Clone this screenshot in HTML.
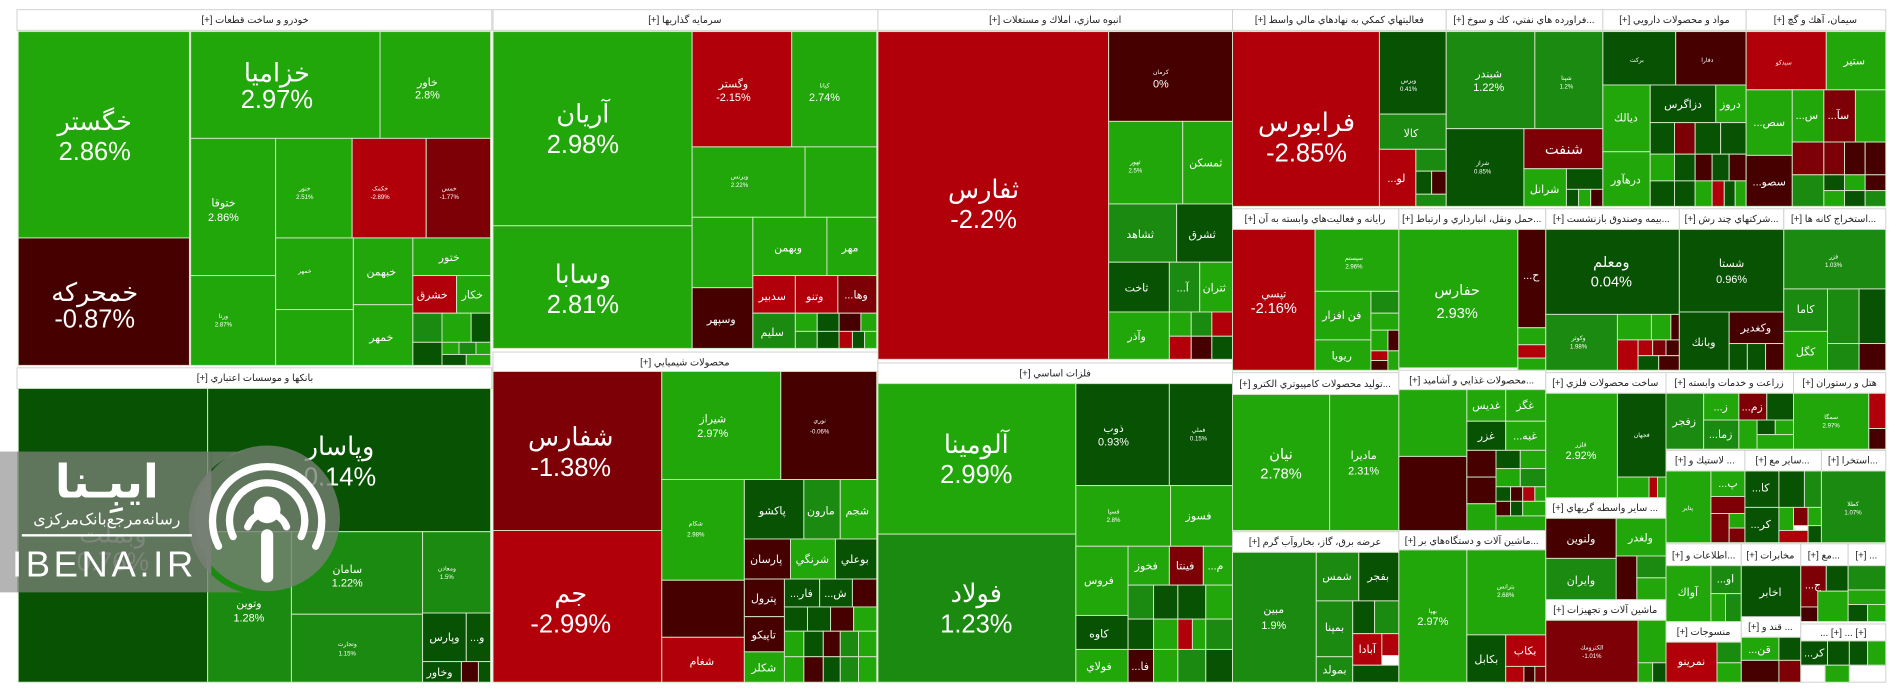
<!DOCTYPE html>
<html><head><meta charset="utf-8"><style>
html,body{margin:0;padding:0;background:#fff;width:1904px;height:698px;overflow:hidden}
svg{display:block}
rect{stroke:#cfe3c4;stroke-width:0.8}
.g{fill:#22a70b}.m{fill:#1b8a10}.d{fill:#0c6a06}.dd{fill:#075203}.r{fill:#b2000b}.dr{fill:#7c0006}.vd{fill:#460000}
.h{fill:#fff;stroke:#d0d0d0}
text{font-family:"Liberation Sans","DejaVu Sans",sans-serif;fill:#fff;text-anchor:middle;direction:rtl}
.ht{fill:#222;font-size:8px}
.L{font-size:21px}.M{font-size:12px}.S{font-size:9px}.T{font-size:5px}
.ltr{direction:ltr}
</style></head><body>
<svg width="1904" height="698" viewBox="0 0 1568 575" preserveAspectRatio="none" xmlns="http://www.w3.org/2000/svg">
<rect x="0" y="0" width="1568" height="575" fill="#fff" style="stroke:none"/>
<!-- Col1 autos -->
<rect class="h" x="14" y="8" width="391" height="17"/><text class="ht" x="210" y="19">خودرو و ساخت قطعات [+]</text>
<rect class="g" x="15" y="26" width="141" height="170"/><text class="L" x="78" y="107">خگستر</text><text class="L ltr" x="78" y="132">2.86%</text>
<rect class="vd" x="15" y="196" width="141" height="105"/><text class="L" x="78" y="248">خمحرکه</text><text class="L ltr" x="78" y="270">-0.87%</text>
<rect class="g" x="157" y="26" width="156" height="88"/><text class="L" x="228" y="67">خزامیا</text><text class="L ltr" x="228" y="89">2.97%</text>
<rect class="g" x="313" y="26" width="91" height="88"/><text class="S" x="352" y="71">خاور</text><text class="S ltr" x="352" y="81">2.8%</text>
<rect class="g" x="157" y="114" width="70" height="113"/><text class="S" x="184" y="170">ختوقا</text><text class="S ltr" x="184" y="182">2.86%</text>
<rect class="g" x="157" y="227" width="70" height="74"/><text class="T" x="184" y="262">ورنا</text><text class="T ltr" x="184" y="269">2.87%</text>
<rect class="g" x="227" y="114" width="63" height="82"/><text class="T" x="251" y="157">خنور</text><text class="T ltr" x="251" y="164">2.51%</text>
<rect class="r" x="290" y="114" width="61" height="82"/><text class="T" x="313" y="157">خکمک</text><text class="T ltr" x="313" y="164">-2.89%</text>
<rect class="dr" x="351" y="114" width="53" height="82"/><text class="T" x="370" y="157">خمس</text><text class="T ltr" x="370" y="164">-1.77%</text>
<rect class="g" x="227" y="196" width="64" height="59"/><text class="T" x="251" y="225">خمهر</text>
<rect class="g" x="227" y="255" width="64" height="46"/>
<rect class="g" x="291" y="196" width="49" height="55"/><text class="S" x="314" y="227">خبهمن</text>
<rect class="g" x="291" y="251" width="49" height="50"/><text class="S" x="314" y="281">خمهر</text>
<rect class="g" x="340" y="196" width="64" height="31"/><text class="S" x="370" y="215">ختور</text>
<rect class="r" x="340" y="227" width="36" height="31"/><text class="S" x="356" y="246">خشرق</text>
<rect class="g" x="376" y="227" width="28" height="31"/><text class="S" x="389" y="246">خکار</text>
<rect class="m" x="340" y="258" width="24" height="24"/><rect class="g" x="364" y="258" width="24" height="24"/><rect class="dd" x="388" y="258" width="16" height="24"/>
<rect class="dd" x="340" y="282" width="24" height="19"/><rect class="g" x="364" y="282" width="14" height="10"/><rect class="m" x="378" y="282" width="14" height="10"/><rect class="g" x="392" y="282" width="12" height="10"/><rect class="dd" x="364" y="292" width="20" height="9"/><rect class="g" x="384" y="292" width="20" height="9"/>
<!-- Banks -->
<rect class="h" x="14" y="303" width="391" height="17"/><text class="ht" x="210" y="314">بانکها و موسسات اعتباري [+]</text>
<rect class="dd" x="15" y="320" width="156" height="242"/><text class="L" x="93" y="447" style="fill:#8a9a88">وبملت</text><text class="L ltr" x="93" y="470" style="fill:#8a9a88">0.76%</text>
<rect class="dd" x="171" y="320" width="233" height="118"/><text class="L" x="280" y="375">وپاسار</text><text class="L ltr" x="280" y="400">0.14%</text>
<rect class="m" x="171" y="438" width="69" height="124"/><text class="S" x="205" y="500">وتوين</text><text class="S ltr" x="205" y="512">1.28%</text>
<rect class="m" x="240" y="438" width="108" height="68"/><text class="S" x="286" y="472">سامان</text><text class="S ltr" x="286" y="483">1.22%</text>
<rect class="m" x="240" y="506" width="108" height="56"/><text class="T" x="286" y="532">وتجارت</text><text class="T ltr" x="286" y="540">1.15%</text>
<rect class="m" x="348" y="438" width="56" height="67"/><text class="T" x="368" y="470">ومعادن</text><text class="T ltr" x="368" y="477">1.5%</text>
<rect class="dd" x="348" y="505" width="36" height="40"/><text class="S" x="366" y="528">وپارس</text>
<rect class="dd" x="384" y="505" width="20" height="40"/><text class="S" x="393" y="528">و...</text>
<rect class="dd" x="348" y="545" width="32" height="17"/><text class="S" x="362" y="557">وخاور</text>
<rect class="vd" x="380" y="545" width="14" height="17"/><rect class="dd" x="394" y="545" width="10" height="17"/>
<!-- Col2 sarmaye -->
<rect class="h" x="406" y="8" width="317" height="17"/><text class="ht" x="564" y="19">سرمايه گذاريها [+]</text>
<rect class="g" x="406" y="26" width="164" height="160"/><text class="L" x="480" y="101">آريان</text><text class="L ltr" x="480" y="126">2.98%</text>
<rect class="g" x="406" y="186" width="164" height="101"/><text class="L" x="480" y="233">وسابا</text><text class="L ltr" x="480" y="258">2.81%</text>
<rect class="r" x="570" y="26" width="82" height="95"/><text class="S" x="604" y="72">وگستر</text><text class="S ltr" x="604" y="83">-2.15%</text>
<rect class="g" x="652" y="26" width="70" height="95"/><text class="T" x="679" y="72">کيانا</text><text class="S ltr" x="679" y="83">2.74%</text>
<rect class="g" x="570" y="121" width="93" height="58"/><text class="T" x="609" y="147">وبرنس</text><text class="T ltr" x="609" y="154">2.22%</text>
<rect class="g" x="663" y="121" width="59" height="58"/>
<rect class="g" x="570" y="179" width="50" height="58"/>
<rect class="g" x="620" y="179" width="61" height="48"/><text class="S" x="649" y="207">وبهمن</text>
<rect class="g" x="681" y="179" width="41" height="48"/><text class="S" x="700" y="207">مهر</text>
<rect class="vd" x="570" y="237" width="50" height="50"/><text class="S" x="594" y="266">وسپهر</text>
<rect class="r" x="620" y="227" width="35" height="31"/><text class="S" x="636" y="247">سدبير</text>
<rect class="r" x="655" y="227" width="35" height="31"/><text class="S" x="671" y="247">وتنو</text>
<rect class="dr" x="690" y="227" width="32" height="31"/><text class="S" x="705" y="246">وها...</text>
<rect class="m" x="620" y="258" width="35" height="29"/><text class="S" x="636" y="277">سليم</text>
<rect class="g" x="655" y="258" width="18" height="15"/><rect class="dd" x="673" y="258" width="18" height="15"/><rect class="vd" x="691" y="258" width="18" height="15"/><rect class="g" x="709" y="258" width="13" height="15"/>
<rect class="m" x="655" y="273" width="18" height="14"/><rect class="dd" x="673" y="273" width="18" height="14"/><rect class="r" x="691" y="273" width="11" height="14"/><rect class="dd" x="702" y="273" width="10" height="14"/><rect class="g" x="712" y="273" width="10" height="14"/>
<!-- Chemicals -->
<rect class="h" x="406" y="290" width="317" height="16"/><text class="ht" x="564" y="301">محصولات شيميايي [+]</text>
<rect class="dr" x="406" y="306" width="139" height="131"/><text class="L" x="470" y="367">شفارس</text><text class="L ltr" x="470" y="392">-1.38%</text>
<rect class="r" x="406" y="437" width="139" height="125"/><text class="L" x="470" y="496">جم</text><text class="L ltr" x="470" y="521">-2.99%</text>
<rect class="g" x="545" y="306" width="98" height="89"/><text class="S" x="587" y="348">شيراز</text><text class="S ltr" x="587" y="360">2.97%</text>
<rect class="vd" x="643" y="306" width="79" height="89"/><text class="T" x="675" y="348">نوري</text><text class="T ltr" x="675" y="357">-0.06%</text>
<rect class="g" x="545" y="395" width="68" height="83"/><text class="T" x="573" y="433">شکام</text><text class="T ltr" x="573" y="442">2.98%</text>
<rect class="vd" x="545" y="478" width="68" height="47"/>
<rect class="r" x="545" y="525" width="68" height="37"/><text class="S" x="578" y="548">شغام</text>
<rect class="dd" x="613" y="395" width="49" height="49"/><text class="S" x="636" y="424">پاکشو</text>
<rect class="m" x="662" y="395" width="30" height="49"/><text class="S" x="676" y="424">مارون</text>
<rect class="g" x="692" y="395" width="30" height="49"/><text class="S" x="706" y="424">شجم</text>
<rect class="vd" x="613" y="444" width="38" height="33"/><text class="S" x="631" y="464">پارسان</text>
<rect class="g" x="651" y="444" width="37" height="33"/><text class="S" x="669" y="464">شرنگي</text>
<rect class="dd" x="688" y="444" width="34" height="33"/><text class="S" x="704" y="464">بوعلي</text>
<rect class="vd" x="613" y="477" width="33" height="31"/><text class="S" x="629" y="496">پترول</text>
<rect class="dd" x="646" y="477" width="29" height="23"/><text class="S" x="660" y="492">فار...</text>
<rect class="dd" x="675" y="477" width="27" height="23"/><text class="S" x="688" y="492">ش...</text>
<rect class="vd" x="702" y="477" width="20" height="23"/>
<rect class="vd" x="613" y="508" width="33" height="29"/><text class="S" x="629" y="526">تاپيکو</text>
<rect class="g" x="613" y="537" width="33" height="25"/><text class="S" x="629" y="553">شکلر</text>
<rect class="dd" x="646" y="500" width="19" height="20"/><rect class="dd" x="665" y="500" width="19" height="20"/><rect class="vd" x="684" y="500" width="19" height="20"/><rect class="g" x="703" y="500" width="19" height="20"/>
<rect class="g" x="646" y="520" width="16" height="21"/><rect class="dd" x="662" y="520" width="16" height="21"/><rect class="vd" x="678" y="520" width="14" height="21"/><rect class="m" x="692" y="520" width="15" height="21"/><rect class="g" x="707" y="520" width="15" height="21"/>
<rect class="g" x="646" y="541" width="16" height="21"/><rect class="vd" x="662" y="541" width="16" height="21"/><rect class="dd" x="678" y="541" width="14" height="21"/><rect class="m" x="692" y="541" width="15" height="21"/><rect class="g" x="707" y="541" width="15" height="21"/>
<!-- Col3 anbooh -->
<rect class="h" x="723" y="8" width="292" height="17"/><text class="ht" x="869" y="19">انبوه سازي، املاك و مستغلات [+]</text>
<rect class="r" x="723" y="26" width="190" height="270"/><text class="L" x="810" y="163">ثفارس</text><text class="L ltr" x="810" y="188">-2.2%</text>
<rect class="vd" x="913" y="26" width="102" height="74"/><text class="T" x="956" y="61">کرمان</text><text class="S ltr" x="956" y="72">0%</text>
<rect class="g" x="913" y="100" width="61" height="68"/><text class="T" x="935" y="135">ثهور</text><text class="T ltr" x="935" y="142">2.5%</text>
<rect class="g" x="974" y="100" width="41" height="68"/><text class="S" x="993" y="137">ثمسکن</text>
<rect class="m" x="913" y="168" width="56" height="48"/><text class="S" x="939" y="196">ثشاهد</text>
<rect class="dd" x="969" y="168" width="46" height="48"/><text class="S" x="990" y="196">ثشرق</text>
<rect class="dd" x="913" y="216" width="50" height="41"/><text class="S" x="936" y="240">ثاخت</text>
<rect class="m" x="963" y="216" width="25" height="41"/><text class="S" x="974" y="240">آ...</text>
<rect class="g" x="988" y="216" width="27" height="41"/><text class="S" x="1000" y="240">ثتران</text>
<rect class="g" x="913" y="257" width="50" height="39"/><text class="S" x="936" y="280">وآذر</text>
<rect class="g" x="963" y="257" width="18" height="20"/><rect class="m" x="981" y="257" width="17" height="20"/><rect class="r" x="998" y="257" width="17" height="20"/>
<rect class="r" x="963" y="277" width="18" height="19"/><rect class="vd" x="981" y="277" width="17" height="19"/><rect class="dd" x="998" y="277" width="17" height="19"/>
<!-- Felezat -->
<rect class="h" x="723" y="299" width="292" height="17"/><text class="ht" x="869" y="310">فلزات اساسي [+]</text>
<rect class="g" x="723" y="316" width="163" height="124"/><text class="L" x="804" y="373">آلومينا</text><text class="L ltr" x="804" y="398">2.99%</text>
<rect class="m" x="723" y="440" width="163" height="122"/><text class="L" x="804" y="496">فولاد</text><text class="L ltr" x="804" y="521">1.23%</text>
<rect class="dd" x="886" y="316" width="77" height="84"/><text class="S" x="917" y="356">ذوب</text><text class="S ltr" x="917" y="367">0.93%</text>
<rect class="dd" x="963" y="316" width="52" height="84"/><text class="T" x="987" y="356">فملي</text><text class="T ltr" x="987" y="363">0.15%</text>
<rect class="g" x="886" y="400" width="78" height="50"/><text class="T" x="917" y="423">فسپا</text><text class="T ltr" x="917" y="430">2.8%</text>
<rect class="g" x="964" y="400" width="51" height="50"/><text class="S" x="987" y="428">فسوز</text>
<rect class="g" x="886" y="450" width="43" height="57"/><text class="S" x="905" y="481">فروس</text>
<rect class="dd" x="886" y="507" width="43" height="28"/><text class="S" x="905" y="525">کاوه</text>
<rect class="g" x="886" y="535" width="43" height="27"/><text class="S" x="905" y="552">فولاي</text>
<rect class="g" x="929" y="450" width="34" height="32"/><text class="S" x="944" y="469">فخوز</text>
<rect class="dr" x="963" y="450" width="28" height="32"/><text class="S" x="976" y="469">فينتا</text>
<rect class="g" x="991" y="450" width="24" height="32"/><text class="S" x="1001" y="469">م...</text>
<rect class="m" x="929" y="482" width="21" height="28"/><rect class="dd" x="950" y="482" width="20" height="28"/><rect class="dd" x="970" y="482" width="23" height="28"/><rect class="g" x="993" y="482" width="22" height="28"/>
<rect class="dd" x="929" y="510" width="21" height="25"/><rect class="g" x="950" y="510" width="20" height="25"/><rect class="r" x="970" y="510" width="12" height="25"/><rect class="g" x="982" y="510" width="11" height="25"/><rect class="m" x="993" y="510" width="22" height="25"/>
<rect class="vd" x="929" y="535" width="21" height="27"/><text class="S" x="939" y="552">فا...</text><rect class="g" x="950" y="535" width="20" height="27"/><rect class="m" x="970" y="535" width="23" height="27"/><rect class="dd" x="993" y="535" width="22" height="27"/>
<!-- Row A right -->
<rect class="h" x="1015" y="8" width="176" height="17"/><text class="ht" x="1103" y="19">فعاليتهاي كمكي به نهادهاي مالي واسط [+]</text>
<rect class="r" x="1015" y="26" width="121" height="144"/><text class="L" x="1076" y="108">فرابورس</text><text class="L ltr" x="1076" y="133">-2.85%</text>
<rect class="dd" x="1136" y="26" width="55" height="68"/><text class="T" x="1160" y="68">وبرس</text><text class="T ltr" x="1160" y="75">0.41%</text>
<rect class="m" x="1136" y="94" width="55" height="29"/><text class="S" x="1162" y="113">كالا</text>
<rect class="r" x="1136" y="123" width="30" height="47"/><text class="S" x="1150" y="150">لو...</text>
<rect class="m" x="1166" y="123" width="25" height="18"/><rect class="dd" x="1166" y="141" width="13" height="19"/><rect class="vd" x="1179" y="141" width="12" height="19"/><rect class="m" x="1166" y="160" width="25" height="10"/>
<rect class="h" x="1191" y="8" width="129" height="17"/><text class="ht" x="1255" y="19">...فراورده هاي نفتي، كك و سوخ [+]</text>
<rect class="m" x="1191" y="26" width="73" height="80"/><text class="S" x="1226" y="64">شبندر</text><text class="S ltr" x="1226" y="75">1.22%</text>
<rect class="m" x="1264" y="26" width="56" height="80"/><text class="T" x="1290" y="66">شپنا</text><text class="T ltr" x="1290" y="73">1.2%</text>
<rect class="dd" x="1191" y="106" width="64" height="64"/><text class="T" x="1221" y="136">شراز</text><text class="T ltr" x="1221" y="143">0.85%</text>
<rect class="dr" x="1255" y="106" width="65" height="33"/><text class="M" x="1288" y="127">شنفت</text>
<rect class="g" x="1255" y="139" width="35" height="31"/><text class="S" x="1272" y="159">شرانل</text>
<rect class="dd" x="1290" y="139" width="30" height="17"/><rect class="dd" x="1290" y="156" width="10" height="14"/><rect class="g" x="1300" y="156" width="10" height="14"/><rect class="vd" x="1310" y="156" width="10" height="14"/>
<rect class="h" x="1320" y="8" width="118" height="17"/><text class="ht" x="1379" y="19">مواد و محصولات دارويي [+]</text>
<rect class="dd" x="1320" y="26" width="60" height="44"/><text class="T" x="1348" y="51">برکت</text>
<rect class="vd" x="1380" y="26" width="58" height="44"/><text class="T" x="1406" y="51">دفارا</text>
<rect class="g" x="1320" y="70" width="39" height="55"/><text class="S" x="1339" y="100">ديالك</text>
<rect class="dd" x="1359" y="70" width="54" height="31"/><text class="S" x="1386" y="89">دزاگرس</text>
<rect class="g" x="1413" y="70" width="25" height="31"/><text class="S" x="1425" y="89">دروز</text>
<rect class="g" x="1320" y="125" width="39" height="45"/><text class="S" x="1339" y="151">درهآور</text>
<rect class="dd" x="1359" y="101" width="20" height="26"/><rect class="dr" x="1379" y="101" width="17" height="26"/><rect class="dd" x="1396" y="101" width="21" height="26"/><rect class="dd" x="1417" y="101" width="21" height="26"/>
<rect class="g" x="1359" y="127" width="20" height="22"/><rect class="dd" x="1379" y="127" width="17" height="22"/><rect class="vd" x="1396" y="127" width="14" height="22"/><rect class="dd" x="1410" y="127" width="14" height="22"/><rect class="vd" x="1424" y="127" width="14" height="22"/>
<rect class="dd" x="1359" y="149" width="20" height="21"/><rect class="dd" x="1379" y="149" width="17" height="21"/><rect class="g" x="1396" y="149" width="14" height="21"/><rect class="r" x="1410" y="149" width="10" height="21"/><rect class="dd" x="1420" y="149" width="9" height="21"/><rect class="g" x="1429" y="149" width="9" height="21"/>
<rect class="h" x="1438" y="8" width="115" height="17"/><text class="ht" x="1495" y="19">سيمان، آهك و گچ [+]</text>
<rect class="r" x="1438" y="26" width="66" height="48"/><text class="T" x="1469" y="53">سيدكو</text>
<rect class="g" x="1504" y="26" width="49" height="48"/><text class="S" x="1527" y="53">ستير</text>
<rect class="g" x="1438" y="74" width="38" height="54"/><text class="S" x="1457" y="104">سص...</text>
<rect class="g" x="1476" y="74" width="26" height="43"/><text class="S" x="1488" y="98">س...</text>
<rect class="dr" x="1502" y="74" width="26" height="43"/><text class="S" x="1514" y="98">سآ...</text>
<rect class="g" x="1528" y="74" width="25" height="43"/>
<rect class="vd" x="1438" y="128" width="38" height="42"/><text class="S" x="1457" y="153">سصو...</text>
<rect class="dr" x="1476" y="117" width="26" height="27"/><rect class="dr" x="1502" y="117" width="17" height="27"/><rect class="vd" x="1519" y="117" width="17" height="27"/><rect class="vd" x="1536" y="117" width="17" height="27"/>
<rect class="m" x="1476" y="144" width="26" height="26"/><rect class="dd" x="1502" y="144" width="17" height="13"/><rect class="g" x="1519" y="144" width="17" height="13"/><rect class="vd" x="1536" y="144" width="17" height="13"/><rect class="g" x="1502" y="157" width="17" height="13"/><rect class="dd" x="1519" y="157" width="17" height="13"/><rect class="m" x="1536" y="157" width="17" height="13"/>
<!-- Row B -->
<rect class="h" x="1015" y="172" width="137" height="17"/><text class="ht" x="1083" y="183">رايانه و فعاليت‌هاي وابسته به آن [+]</text>
<rect class="r" x="1015" y="189" width="68" height="116"/><text class="S" x="1049" y="245">تپسي</text><text class="M ltr" x="1049" y="258">-2.16%</text>
<rect class="g" x="1083" y="189" width="69" height="51"/><text class="T" x="1115" y="214">سپستم</text><text class="T ltr" x="1115" y="221">2.96%</text>
<rect class="g" x="1083" y="240" width="46" height="40"/><text class="S" x="1105" y="263">فن افزار</text>
<rect class="g" x="1083" y="280" width="46" height="25"/><text class="S" x="1105" y="296">ريويا</text>
<rect class="m" x="1129" y="240" width="23" height="18"/><rect class="g" x="1129" y="258" width="23" height="14"/><rect class="g" x="1129" y="272" width="14" height="17"/><rect class="vd" x="1143" y="272" width="9" height="17"/><rect class="r" x="1129" y="289" width="14" height="8"/><rect class="vd" x="1129" y="297" width="14" height="8"/><rect class="g" x="1143" y="289" width="9" height="16"/>
<rect class="h" x="1152" y="172" width="121" height="17"/><text class="ht" x="1212" y="183">...حمل ونقل، انبارداري و ارتباط [+]</text>
<rect class="g" x="1152" y="189" width="98" height="114"/><text class="M" x="1200" y="243">حفارس</text><text class="M ltr" x="1200" y="262">2.93%</text>
<rect class="vd" x="1250" y="189" width="23" height="81"/><text class="S" x="1261" y="230">ح...</text>
<rect class="g" x="1250" y="270" width="23" height="14"/><rect class="r" x="1250" y="284" width="23" height="11"/><rect class="g" x="1250" y="295" width="23" height="10"/>
<rect class="h" x="1273" y="172" width="110" height="17"/><text class="ht" x="1327" y="183">...بيمه وصندوق بازنشست [+]</text>
<rect class="dd" x="1273" y="189" width="110" height="70"/><text class="M" x="1327" y="220">ومعلم</text><text class="M ltr" x="1327" y="236">0.04%</text>
<rect class="m" x="1273" y="259" width="59" height="46"/><text class="T" x="1300" y="280">وکوثر</text><text class="T ltr" x="1300" y="287">1.98%</text>
<rect class="g" x="1332" y="259" width="28" height="21"/><rect class="g" x="1360" y="259" width="16" height="21"/><rect class="vd" x="1376" y="259" width="7" height="21"/>
<rect class="r" x="1332" y="280" width="17" height="25"/><rect class="r" x="1349" y="280" width="12" height="13"/><rect class="dr" x="1361" y="280" width="11" height="13"/><rect class="vd" x="1372" y="280" width="11" height="13"/><rect class="dd" x="1349" y="293" width="17" height="12"/><rect class="vd" x="1366" y="293" width="17" height="12"/>
<rect class="h" x="1383" y="172" width="86" height="17"/><text class="ht" x="1426" y="183">...شركتهاي چند رش [+]</text>
<rect class="dd" x="1383" y="189" width="86" height="68"/><text class="S" x="1426" y="220">شستا</text><text class="S ltr" x="1426" y="233">0.96%</text>
<rect class="dd" x="1383" y="257" width="41" height="48"/><text class="S" x="1403" y="285">وبانك</text>
<rect class="vd" x="1424" y="257" width="45" height="26"/><text class="S" x="1446" y="273">وكغدير</text>
<rect class="dd" x="1424" y="283" width="15" height="22"/><rect class="dd" x="1439" y="283" width="15" height="22"/><rect class="vd" x="1454" y="283" width="15" height="22"/>
<rect class="h" x="1469" y="172" width="84" height="17"/><text class="ht" x="1510" y="183">...استخراج كانه ها [+]</text>
<rect class="m" x="1469" y="189" width="84" height="49"/><text class="T" x="1510" y="213">فزر</text><text class="T ltr" x="1510" y="220">1.03%</text>
<rect class="m" x="1469" y="238" width="36" height="35"/><text class="S" x="1487" y="258">كاما</text>
<rect class="m" x="1505" y="238" width="26" height="45"/><rect class="dd" x="1531" y="238" width="22" height="45"/>
<rect class="g" x="1469" y="273" width="36" height="32"/><text class="S" x="1487" y="293">كگل</text>
<rect class="m" x="1505" y="283" width="26" height="22"/><rect class="vd" x="1531" y="283" width="22" height="22"/>
<!-- Row C/D -->
<rect class="h" x="1015" y="307" width="137" height="18"/><text class="ht" x="1083" y="319">...توليد محصولات كامپيوتري الكترو [+]</text>
<rect class="g" x="1015" y="325" width="80" height="112"/><text class="M" x="1055" y="378">نيان</text><text class="M ltr" x="1055" y="394">2.78%</text>
<rect class="g" x="1095" y="325" width="57" height="112"/><text class="S" x="1123" y="378">ماديرا</text><text class="S ltr" x="1123" y="391">2.31%</text>
<rect class="h" x="1015" y="438" width="137" height="17"/><text class="ht" x="1083" y="449">عرضه برق، گاز، بخاروآب گرم [+]</text>
<rect class="m" x="1015" y="455" width="69" height="107"/><text class="S" x="1049" y="505">مبين</text><text class="S ltr" x="1049" y="518">1.9%</text>
<rect class="m" x="1084" y="455" width="35" height="40"/><text class="S" x="1101" y="478">شمس</text>
<rect class="dd" x="1119" y="455" width="33" height="40"/><text class="S" x="1135" y="478">بفجر</text>
<rect class="m" x="1084" y="495" width="30" height="46"/><text class="S" x="1099" y="520">بمپنا</text>
<rect class="m" x="1084" y="541" width="30" height="21"/><text class="S" x="1099" y="555">بمولد</text>
<rect class="dd" x="1114" y="495" width="18" height="27"/><rect class="m" x="1132" y="495" width="20" height="27"/><rect class="r" x="1114" y="522" width="24" height="26"/><text class="S" x="1126" y="538">آبادا</text><rect class="r" x="1138" y="522" width="14" height="18"/><rect class="dd" x="1114" y="548" width="38" height="14"/>
<rect class="h" x="1152" y="305" width="121" height="16"/><text class="ht" x="1212" y="316">...محصولات غذايي و آشاميد [+]</text>
<rect class="g" x="1152" y="321" width="56" height="55"/>
<rect class="g" x="1208" y="321" width="32" height="26"/><text class="S" x="1224" y="337">غديس</text>
<rect class="g" x="1240" y="321" width="33" height="26"/><text class="S" x="1256" y="337">غگز</text>
<rect class="dd" x="1208" y="347" width="32" height="24"/><text class="S" x="1224" y="362">غزر</text>
<rect class="g" x="1240" y="347" width="33" height="24"/><text class="S" x="1256" y="362">غبه...</text>
<rect class="vd" x="1152" y="376" width="56" height="61"/>
<rect class="vd" x="1208" y="371" width="24" height="22"/><rect class="dd" x="1232" y="371" width="20" height="15"/><rect class="g" x="1252" y="371" width="21" height="15"/>
<rect class="vd" x="1208" y="393" width="24" height="22"/><rect class="g" x="1232" y="386" width="20" height="15"/><rect class="m" x="1252" y="386" width="21" height="15"/>
<rect class="g" x="1208" y="415" width="24" height="22"/><rect class="dd" x="1232" y="401" width="12" height="12"/><rect class="vd" x="1244" y="401" width="10" height="12"/><rect class="r" x="1254" y="401" width="10" height="12"/><rect class="g" x="1264" y="401" width="9" height="12"/><rect class="vd" x="1232" y="413" width="12" height="12"/><rect class="dd" x="1244" y="413" width="10" height="12"/><rect class="g" x="1254" y="413" width="19" height="12"/><rect class="g" x="1232" y="425" width="41" height="12"/>
<rect class="h" x="1152" y="437" width="121" height="16"/><text class="ht" x="1212" y="448">...ماشين آلات و دستگاه‌هاي بر [+]</text>
<rect class="g" x="1152" y="453" width="56" height="109"/><text class="T" x="1180" y="505">بهپا</text><text class="S ltr" x="1180" y="515">2.97%</text>
<rect class="g" x="1208" y="453" width="65" height="70"/><text class="T" x="1240" y="485">بترانس</text><text class="T ltr" x="1240" y="492">2.68%</text>
<rect class="dd" x="1208" y="523" width="32" height="39"/><text class="S" x="1224" y="546">بكابل</text>
<rect class="r" x="1240" y="523" width="33" height="26"/><text class="S" x="1256" y="539">بكاب</text>
<rect class="r" x="1240" y="549" width="15" height="13"/><rect class="vd" x="1255" y="549" width="9" height="13"/><rect class="dr" x="1264" y="549" width="9" height="13"/>
<rect class="h" x="1273" y="307" width="99" height="17"/><text class="ht" x="1322" y="318">ساخت محصولات فلزي [+]</text>
<rect class="g" x="1273" y="324" width="59" height="93"/><text class="T" x="1302" y="368">فلزر</text><text class="S ltr" x="1302" y="378">2.92%</text>
<rect class="dd" x="1332" y="324" width="40" height="69"/><text class="T" x="1352" y="360">فجهان</text>
<rect class="g" x="1332" y="393" width="26" height="17"/><rect class="r" x="1358" y="393" width="7" height="17"/><rect class="g" x="1365" y="393" width="7" height="17"/>
<rect class="h" x="1273" y="410" width="99" height="17"/><text class="ht" x="1322" y="421">... ساير واسطه گريهاي [+]</text>
<rect class="vd" x="1273" y="427" width="58" height="33"/><text class="S" x="1302" y="447">ولنوين</text>
<rect class="g" x="1331" y="427" width="41" height="31"/><text class="S" x="1351" y="446">ولغدر</text>
<rect class="m" x="1273" y="460" width="58" height="34"/><text class="S" x="1302" y="481">وايران</text>
<rect class="vd" x="1331" y="458" width="17" height="36"/><rect class="m" x="1348" y="458" width="24" height="18"/><rect class="g" x="1348" y="476" width="24" height="18"/>
<rect class="h" x="1273" y="494" width="99" height="17"/><text class="ht" x="1322" y="505">ماشين آلات و تجهيزات [+]</text>
<rect class="dr" x="1273" y="511" width="76" height="51"/><text class="T" x="1311" y="535">الکترومك</text><text class="T ltr" x="1311" y="542">-1.01%</text>
<rect class="g" x="1349" y="511" width="23" height="35"/><rect class="g" x="1349" y="546" width="12" height="16"/><rect class="dd" x="1361" y="546" width="11" height="16"/>
<rect class="h" x="1372" y="307" width="105" height="17"/><text class="ht" x="1424" y="318">زراعت و خدمات وابسته [+]</text>
<rect class="m" x="1372" y="324" width="31" height="46"/><text class="S" x="1387" y="350">زفجر</text>
<rect class="g" x="1403" y="324" width="29" height="22"/><text class="S" x="1417" y="338">ز...</text>
<rect class="dr" x="1432" y="324" width="23" height="22"/><text class="S" x="1443" y="338">زم...</text>
<rect class="dd" x="1455" y="324" width="22" height="22"/>
<rect class="m" x="1403" y="346" width="29" height="24"/><text class="S" x="1417" y="361">زما...</text>
<rect class="g" x="1432" y="346" width="15" height="24"/><rect class="dd" x="1447" y="346" width="15" height="12"/><rect class="g" x="1462" y="346" width="15" height="12"/><rect class="g" x="1447" y="358" width="30" height="12"/>
<rect class="h" x="1477" y="307" width="76" height="17"/><text class="ht" x="1515" y="318">هتل و رستوران [+]</text>
<rect class="g" x="1477" y="324" width="62" height="46"/><text class="T" x="1508" y="345">سمگا</text><text class="T ltr" x="1508" y="352">2.97%</text>
<rect class="r" x="1539" y="324" width="14" height="29"/><rect class="vd" x="1539" y="353" width="14" height="17"/>
<rect class="h" x="1372" y="371" width="65" height="17"/><text class="ht" x="1404" y="382">... لاستيك و [+]</text>
<rect class="g" x="1372" y="388" width="37" height="59"/><text class="T" x="1390" y="420">پتاير</text>
<rect class="g" x="1409" y="388" width="28" height="21"/><text class="S" x="1423" y="401">پ...</text>
<rect class="dr" x="1409" y="409" width="28" height="14"/><rect class="dr" x="1409" y="423" width="15" height="24"/><rect class="g" x="1424" y="423" width="13" height="12"/><rect class="dr" x="1424" y="435" width="13" height="12"/>
<rect class="h" x="1437" y="371" width="63" height="17"/><text class="ht" x="1468" y="382">...ساير مع [+]</text>
<rect class="dd" x="1437" y="388" width="28" height="30"/><text class="S" x="1450" y="405">كا...</text>
<rect class="dd" x="1465" y="388" width="21" height="30"/><rect class="m" x="1486" y="388" width="14" height="30"/>
<rect class="dd" x="1437" y="418" width="28" height="29"/><text class="S" x="1450" y="435">كر...</text>
<rect class="g" x="1465" y="418" width="12" height="29"/><rect class="dr" x="1477" y="418" width="12" height="15"/><rect class="g" x="1489" y="418" width="11" height="15"/><rect class="r" x="1465" y="437" width="24" height="10"/><rect class="dd" x="1489" y="433" width="11" height="14"/>
<rect class="h" x="1500" y="371" width="53" height="17"/><text class="ht" x="1526" y="382">...استخرا [+]</text>
<rect class="m" x="1500" y="388" width="53" height="59"/><text class="T" x="1526" y="417">کطلا</text><text class="T ltr" x="1526" y="424">1.07%</text>
<rect class="h" x="1372" y="448" width="62" height="18"/><text class="ht" x="1403" y="460">...اطلاعات و [+]</text>
<rect class="g" x="1372" y="466" width="37" height="46"/><text class="S" x="1390" y="491">آواك</text>
<rect class="m" x="1409" y="466" width="25" height="23"/><text class="S" x="1421" y="480">او...</text><rect class="g" x="1409" y="489" width="12" height="23"/><rect class="m" x="1421" y="489" width="13" height="23"/>
<rect class="h" x="1434" y="448" width="49" height="18"/><text class="ht" x="1458" y="460">مخابرات [+]</text>
<rect class="dd" x="1434" y="466" width="49" height="46"/><text class="S" x="1458" y="491">اخابر</text>
<rect class="h" x="1483" y="448" width="39" height="18"/><text class="ht" x="1502" y="460">...مع [+]</text>
<rect class="dr" x="1483" y="466" width="21" height="34"/><text class="S" x="1493" y="485">ج...</text><rect class="dd" x="1504" y="466" width="18" height="21"/><rect class="vd" x="1483" y="500" width="14" height="12"/><rect class="g" x="1497" y="487" width="25" height="25"/>
<rect class="h" x="1522" y="448" width="31" height="18"/><text class="ht" x="1537" y="460">... [+]</text>
<rect class="m" x="1522" y="466" width="31" height="20"/><rect class="g" x="1522" y="486" width="31" height="12"/><rect class="dd" x="1522" y="498" width="16" height="14"/><rect class="g" x="1538" y="498" width="15" height="14"/>
<rect class="h" x="1372" y="512" width="62" height="17"/><text class="ht" x="1403" y="523">منسوجات [+]</text>
<rect class="r" x="1372" y="529" width="42" height="33"/><text class="S" x="1393" y="548">نمرينو</text>
<rect class="m" x="1414" y="529" width="20" height="17"/><rect class="g" x="1414" y="546" width="20" height="16"/>
<rect class="h" x="1434" y="508" width="49" height="17"/><text class="ht" x="1458" y="519">... قند و [+]</text>
<rect class="g" x="1434" y="525" width="31" height="19"/><text class="S" x="1449" y="538">قن...</text><rect class="dd" x="1465" y="525" width="18" height="19"/><rect class="vd" x="1434" y="544" width="31" height="18"/><rect class="dr" x="1465" y="544" width="18" height="18"/>
<rect class="h" x="1483" y="514" width="70" height="14"/><text class="ht" x="1518" y="524">[+] ... [+] ...</text>
<rect class="dd" x="1483" y="528" width="22" height="20"/><text class="S" x="1494" y="541">كر...</text><rect class="dd" x="1505" y="528" width="18" height="20"/><rect class="dd" x="1523" y="528" width="15" height="20"/><rect class="g" x="1538" y="528" width="15" height="20"/>
<rect class="h" x="1483" y="548" width="20" height="14"/><rect class="g" x="1503" y="548" width="20" height="14"/><rect class="h" x="1523" y="548" width="30" height="14"/>
<!-- logo overlay -->
<rect x="0" y="372" width="14" height="116" fill="#b4b4b4" style="stroke:none"/>
<rect x="14" y="372" width="160" height="116" fill="rgba(120,128,118,0.78)" style="stroke:none"/>
<circle cx="220" cy="427" r="60" fill="rgba(120,128,118,0.78)"/>
<path d="M174 372 H200 A60 60 0 0 0 200 488 H174 Z" fill="rgba(120,128,118,0.78)"/>
<text x="88" y="410" style="font-size:38px;font-weight:bold">ايبِـنا</text>
<text x="88" y="432" style="font-size:13px">رسانه‌مرجع‌بانک‌مرکزی</text>
<rect x="18" y="440" width="140" height="2" fill="#fff" style="stroke:none"/>
<text class="ltr" x="86" y="475" style="font-size:30px;letter-spacing:3px">IBENA.IR</text>
<g fill="none" stroke="#fff" stroke-linecap="round" stroke-width="6">
<path d="M180 450 A45 45 0 1 1 260 450"/>
<path d="M192 442 A31 31 0 1 1 248 442"/>
<path d="M204 434 A17 17 0 0 1 236 434" />
</g>
<circle cx="220" cy="420" r="11" fill="#fff"/>
<rect x="215" y="436" width="10" height="44" rx="5" fill="#fff" style="stroke:none"/>
</svg>
</body></html>
